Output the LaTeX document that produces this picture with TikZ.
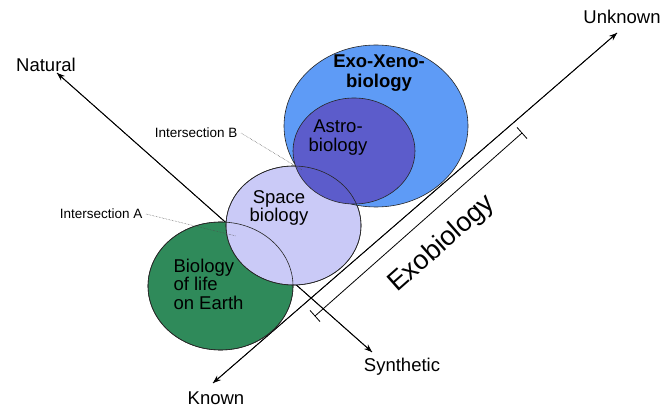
\documentclass[tikz,border=0pt]{standalone}
\usepackage{fontspec}
\setmainfont{Liberation Sans}
\usetikzlibrary{shapes.geometric,arrows.meta,calc}
\definecolor{exoblue}{HTML}{5E9BF6}
\definecolor{astroblue}{HTML}{5C5CCB}
\definecolor{spacelav}{HTML}{CACAF7}
\definecolor{earthgreen}{HTML}{2F8A5A}
\begin{document}
\begin{tikzpicture}[x=1pt,y=-1pt,
  blob/.style={ellipse,draw=black!85,line width=0.6pt,inner sep=0pt},
  axis/.style={line width=0.8pt,-{Stealth[length=8pt,width=6pt]}},
  lbl/.style={font=\fontsize{18.5}{20}\selectfont},
  small/.style={font=\fontsize{13.5}{15}\selectfont},
  leader/.style={densely dotted,line width=0.5pt,black!70}]
\useasboundingbox (0,0) rectangle (663,411);
% axes
\coordinate (natural) at (57,73);
\coordinate (synthetic) at (372,352);
\coordinate (known) at (213,383);
\coordinate (unknown) at (617,33);
\draw[axis] (natural) -- (synthetic);
\draw[axis] (known) -- (unknown);
\draw[axis] (synthetic) -- (natural);
\draw[axis] (unknown) -- (known);
% exobiology bracket
\coordinate (b1) at (315,316);
\coordinate (b2) at (522,133);
\draw[line width=0.8pt] (b1) -- (b2);
\draw[line width=0.8pt] ($(b1)+(-5,-5.6)$) -- ($(b1)+(5,5.6)$);
\draw[line width=0.8pt] ($(b2)+(-5,-5.6)$) -- ($(b2)+(5,5.6)$);
% circles
\node[blob,fill=earthgreen,minimum width=145pt,minimum height=128pt] (earth) at (220.5,286) {};
\node[blob,fill=spacelav,minimum width=135pt,minimum height=119pt] (space) at (293.5,225.5) {};
\node[blob,fill=exoblue,minimum width=184pt,minimum height=162pt] (exo) at (376,126) {};
\node[blob,fill=astroblue,minimum width=122pt,minimum height=106pt] (astro) at (354,151) {};
\draw[black!85,line width=0.6pt] (earth.center) ellipse [x radius=72.5,y radius=64];
\draw[black!85,line width=0.6pt] (space.center) ellipse [x radius=67.5,y radius=59.5];
% texts
\node[lbl] (tnat) at (46,65) {Natural};
\node[lbl] (tunk) at (622,17) {Unknown};
\node[lbl] (tknown) at (216,398) {Known};
\node[lbl] (tsyn) at (402,367) {Synthetic};
\node[font=\fontsize{18.5}{20}\selectfont\bfseries,align=center] (texo) at (379,73) {Exo-Xeno-\\biology};
\node[font=\fontsize{18.5}{19.5}\selectfont,align=center] (tastro) at (338,137.5) {Astro-\\biology};
\node[font=\fontsize{18.5}{18.5}\selectfont,align=center] (tspace) at (279,208) {Space\\biology};
\node[font=\fontsize{18.5}{18.5}\selectfont,align=left,anchor=west] (tearth) at (170,284) {Biology\\of life\\on Earth};
\node[font=\fontsize{27}{30}\selectfont,rotate=41.5] (texobio) at (442,244) {Exobiology};
% intersections
\node[small,anchor=east] (tib) at (241,133) {Intersection B};
\node[small,anchor=east] (tia) at (146,214) {Intersection A};
\coordinate (pb) at (302,170);
\coordinate (pa) at (236,236);
\draw[leader] (tib.east) -- (pb);
\draw[leader] (tia.east) -- (pa);
\end{tikzpicture}
\end{document}
